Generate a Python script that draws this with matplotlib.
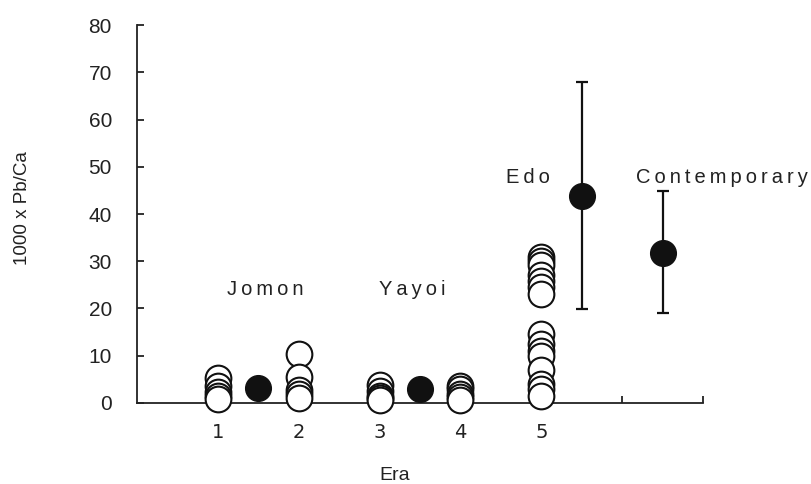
import matplotlib
matplotlib.use('Agg')
import matplotlib.pyplot as plt
import numpy as np

# individual samples (1000 x Pb/Ca), per era column
era_pos = [1, 2, 3, 4, 5]
jomon_1 = [5.3, 3.6, 2.3, 1.5, 0.8]
jomon_2 = [10.3, 5.5, 2.8, 1.8, 1.0]
yayoi_3 = [3.7, 2.5, 1.5, 1.0, 0.7]
yayoi_4 = [3.6, 3.0, 2.0, 1.2, 0.6]
edo_5 = [31.0, 30.0, 29.3, 27.0, 25.8, 24.5, 23.0,
         14.5, 12.5, 11.0, 10.0, 7.0, 4.0, 3.0, 1.5]

# group means with error bars
mean_pos = [1.5, 3.5]
mean_val = [3.2, 3.0]
err_pos = [5.5, 6.5]
err_val = [43.8, 31.7]
err_hi = [67.9, 44.9]
err_lo = [19.9, 19.0]

# group labels
grp_names = ['Jomon', 'Yayoi', 'Edo', 'Contemporary']
grp_x = [1.59, 3.40, 4.83, 7.24]
grp_y = [24.0, 24.0, 47.7, 47.7]

xtick_pos = [1, 2, 3, 4, 5, 6, 7]
xtick_lab = ['1', '2', '3', '4', '5', '', '']

fig = plt.figure(figsize=(8.12, 4.84), dpi=100)
ax = fig.add_axes([0.1687, 0.1674, 0.8658 - 0.1687, 0.9483 - 0.1674])

# open circles
for xp, vals in zip(era_pos, [jomon_1, jomon_2, yayoi_3, yayoi_4, edo_5]):
    ax.plot([xp] * len(vals), vals, 'o', markersize=18.5, markerfacecolor='white',
            markeredgecolor='#111111', markeredgewidth=1.5, linestyle='none',
            clip_on=False, zorder=3)

# filled means
ax.plot(mean_pos, mean_val, 'o', markersize=18.5, color='#111111',
        linestyle='none', clip_on=False, zorder=3)

yerr = [np.array(err_val) - np.array(err_lo), np.array(err_hi) - np.array(err_val)]
ax.errorbar(err_pos, err_val, yerr=yerr, fmt='o', markersize=18.5, color='#111111',
            ecolor='#111111', elinewidth=1.6, capsize=4, capthick=1.6, zorder=3)

def spaced(s):
    return '\u2009'.join(s)

for name, xp, yp in zip(grp_names, grp_x, grp_y):
    ax.text(xp, yp, spaced(name), ha='center', va='center', fontsize=14.5,
            family=['Liberation Sans', 'DejaVu Sans'], color='#222222')

# axes -------------------------------------------------------
ax.set_xlim(0, 7)
ax.set_ylim(0, 80)
for s in ['top', 'right']:
    ax.spines[s].set_visible(False)
for s in ['left', 'bottom']:
    ax.spines[s].set_linewidth(1.3)
    ax.spines[s].set_color('#222222')

ax.set_yticks(np.arange(0, 81, 10))
ax.set_yticklabels([str(v) for v in range(0, 81, 10)], fontsize=15,
                   family='Liberation Sans', color='#222222')
ax.tick_params(axis='y', direction='in', length=5, width=1.3, pad=18, colors='#222222')

ax.set_xticks(xtick_pos)
ax.set_xticklabels(xtick_lab, fontsize=14, family='DejaVu Sans', color='#222222')
ax.tick_params(axis='x', direction='in', length=5, width=1.3, pad=14.5, colors='#222222')

fig.text(22.5 / 812, 1 - 208 / 484, '1000 x Pb/Ca', rotation=90, ha='center',
         va='center', fontsize=13.5, family='Liberation Sans', color='#222222')
fig.text(395 / 812, 1 - 475 / 484, 'Era', ha='center', va='center',
         fontsize=14, family='Liberation Sans', color='#222222')

fig.savefig('out.png', dpi=100)
